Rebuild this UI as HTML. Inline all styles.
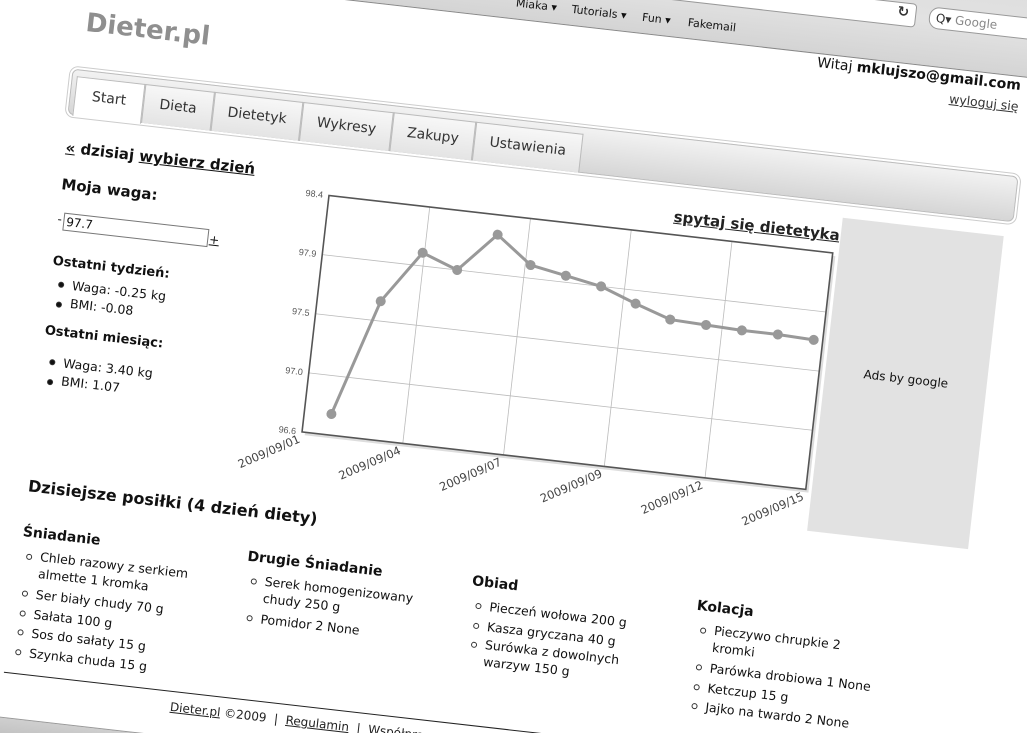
<!DOCTYPE html>
<html><head><meta charset="utf-8">
<style>
html,body{margin:0;padding:0;width:1027px;height:733px;overflow:hidden;background:#fff;}
#clip{position:relative;width:1027px;height:733px;overflow:hidden;}
#page{position:absolute;left:0;top:0;width:1100px;height:735px;transform:rotate(6.5deg);transform-origin:0 0;font-family:"DejaVu Sans","Liberation Sans",sans-serif;color:#111;}
.a{position:absolute;white-space:nowrap;}
.topbar{position:absolute;left:-300px;top:-260px;width:1700px;height:220px;background:linear-gradient(#cfcfcf,#e2e2e2 80%,#d4d4d4);border-bottom:1px solid #888;}
.bm{font-size:11px;color:#111;top:-62px;}
.tabbox{position:absolute;left:80px;top:60px;width:950px;height:44px;border:1px solid #bbb;border-radius:6px;background:linear-gradient(#f2f2f2,#d6d6d6);box-shadow:0 0 0 2px #fff,0 0 0 3px #ccc;}
.tab{position:absolute;top:6px;height:38px;border:1px solid #bbb;border-bottom:none;background:linear-gradient(#f7f7f7,#e4e4e4);font-size:14px;color:#333;text-align:center;line-height:36px;font-family:"DejaVu Sans",sans-serif;}
.tab.on{background:#fff;height:39px;}
h4{margin:0;font-size:15px;font-weight:bold;}
ul{margin:0;padding:0;list-style:none;}
.li{font-size:12.5px;line-height:19.5px;position:relative;padding-left:16px;}
.li:before{content:"";position:absolute;left:2px;top:7px;width:4px;height:4px;border:1px solid #333;border-radius:50%;}
.dot:before{background:#111;}
.meal ul{width:185px;}
.meal .li.w{white-space:normal;line-height:17px;margin-bottom:3px;}
</style></head><body>
<div id="clip">
<div id="page">
  <div class="topbar"></div>
  <div class="a" style="left:100px;top:-100px;width:810px;height:22px;border:1px solid #999;border-radius:4px;background:#fff"></div>
  <div class="a bm" style="left:513px">Miaka ▾</div>
  <div class="a bm" style="left:569px">Tutorials ▾</div>
  <div class="a bm" style="left:640px">Fun ▾</div>
  <div class="a bm" style="left:686px">Fakemail</div>
  <div class="a" style="left:893px;top:-98px;font-size:14px;color:#333;font-weight:bold">↻</div>
  <div class="a" style="left:925px;top:-99px;width:120px;height:20px;border:1px solid #999;border-radius:10px;background:#fff;font-size:12px;color:#888;line-height:20px;padding-left:6px"><span style="color:#333">Q▾</span> Google</div>

  <div class="a" style="left:88px;top:-2px;font-size:26px;font-weight:bold;color:#8f8f8f;font-family:'DejaVu Sans',sans-serif">Dieter.pl</div>
  <div class="a" style="right:76px;top:-38px;font-size:14px;text-align:right">Witaj <b>mklujszo@gmail.com</b></div>
  <div class="a" style="right:76px;top:-17px;font-size:12.5px;text-decoration:underline;color:#333">wyloguj się</div>

  <div class="tabbox">
    <div class="tab on" style="left:4px;width:67px">Start</div>
    <div class="tab" style="left:73px;width:68px">Dieta</div>
    <div class="tab" style="left:143px;width:87px">Dietetyk</div>
    <div class="tab" style="left:232px;width:89px">Wykresy</div>
    <div class="tab" style="left:323px;width:81px">Zakupy</div>
    <div class="tab" style="left:406px;width:106px">Ustawienia</div>
  </div>

  <div class="a" style="left:82px;top:130px;font-size:15px;font-weight:bold"><u>«</u> dzisiaj <u>wybierz dzień</u></div>
  <div class="a" style="left:82px;top:167px;font-size:15px;font-weight:bold">Moja waga:</div>
  <div class="a" style="left:82px;top:204px;font-size:12px">-</div>
  <div class="a" style="left:88px;top:204px;width:142px;height:16px;border:1px solid #777;font-size:12px;line-height:16px;padding-left:2px">97.7</div>
  <div class="a" style="left:235px;top:207px;font-size:12px;text-decoration:underline">+</div>
  <div class="a" style="left:82px;top:246px;font-size:13px;font-weight:bold">Ostatni tydzień:</div>
  <ul class="a" style="left:88px;top:266px">
    <li class="li dot">Waga: -0.25 kg</li>
    <li class="li dot" style="line-height:15px">BMI: -0.08</li>
  </ul>
  <div class="a" style="left:82px;top:316px;font-size:13px;font-weight:bold">Ostatni miesiąc:</div>
  <ul class="a" style="left:88px;top:344px">
    <li class="li dot">Waga: 3.40 kg</li>
    <li class="li dot" style="line-height:15px">BMI: 1.07</li>
  </ul>

  <svg id="chart" class="a" style="left:280px;top:140px" width="600" height="340"></svg>
  <div class="a" style="right:239px;top:130px;font-size:15px;font-weight:bold;text-decoration:underline;color:#222">spytaj się dietetyka</div>

  <div class="a" style="left:862px;top:121px;width:162px;height:315px;background:#e2e2e2">
    <div style="position:absolute;left:0;right:0;top:146px;text-align:center;font-size:12px">Ads by google</div>
  </div>

  <div class="a" style="left:83px;top:470px;font-size:16px;font-weight:bold">Dzisiejsze posiłki (4 dzień diety)</div>

  <div class="a meal" style="left:83px;top:518px">
    <h4 style="font-size:14px">Śniadanie</h4>
    <ul style="margin-top:6px;margin-left:4px">
      <li class="li w">Chleb razowy z serkiem almette 1 kromka</li>
      <li class="li">Ser biały chudy 70 g</li>
      <li class="li">Sałata 100 g</li>
      <li class="li">Sos do sałaty 15 g</li>
      <li class="li">Szynka chuda 15 g</li>
    </ul>
  </div>
  <div class="a meal" style="left:309px;top:517px">
    <h4 style="font-size:14px">Drugie Śniadanie</h4>
    <ul style="margin-top:6px;margin-left:4px">
      <li class="li w">Serek homogenizowany chudy 250 g</li>
      <li class="li">Pomidor 2 None</li>
    </ul>
  </div>
  <div class="a meal" style="left:535px;top:516px">
    <h4 style="font-size:14px">Obiad</h4>
    <ul style="margin-top:6px;margin-left:4px">
      <li class="li">Pieczeń wołowa 200 g</li>
      <li class="li">Kasza gryczana 40 g</li>
      <li class="li w">Surówka z dowolnych warzyw 150 g</li>
    </ul>
  </div>
  <div class="a meal" style="left:761px;top:515px">
    <h4 style="font-size:14px">Kolacja</h4>
    <ul style="margin-top:6px;margin-left:4px">
      <li class="li w">Pieczywo chrupkie 2 kromki</li>
      <li class="li">Parówka drobiowa 1 None</li>
      <li class="li">Ketczup 15 g</li>
      <li class="li">Jajko na twardo 2 None</li>
    </ul>
  </div>

  <div class="a" style="left:80px;top:667px;width:1020px;height:0;border-top:1px solid #222"></div>
  <div class="a" style="left:249px;top:676px;font-size:12px;color:#222"><u>Dieter.pl</u> ©2009 &nbsp;|&nbsp; <u>Regulamin</u> &nbsp;|&nbsp; <u>Współpraca</u> &nbsp;|&nbsp; <u>Kontakt</u></div>
  <div class="a" style="left:-300px;top:712px;width:1400px;height:23px;background:linear-gradient(#cfcfcf,#bdbdbd);border-top:1px solid #999"></div>
</div>
</div>
<script>
const days = [1.75, 2.75, 3.75, 4.75, 5.75, 6.75, 7.75, 8.75, 9.75, 10.75, 11.75, 12.75, 13.75, 14.75];
const weights = [96.76, 97.65, 98.05, 97.95, 98.25, 98.05, 98.0, 97.95, 97.85, 97.76, 97.75, 97.74, 97.74, 97.73];
const yTickValues = [96.6, 97.05, 97.5, 97.95, 98.4];
const yTickLabels = ["96.6", "97.0", "97.5", "97.9", "98.4"];
const xTickValues = [1, 3.8, 6.6, 9.4, 12.2, 15];
const xTickLabels = ["2009/09/01", "2009/09/04", "2009/09/07", "2009/09/09", "2009/09/12", "2009/09/15"];

const svg = document.getElementById('chart');
const NS = 'http://www.w3.org/2000/svg';
const PL = 69, PT = 17, PW = 507, PH = 238;
const xMin = 1, xMax = 15, yMin = 96.6, yMax = 98.4;
function xs(d){ return PL + (d - xMin) / (xMax - xMin) * PW; }
function ys(v){ return PT + (yMax - v) / (yMax - yMin) * PH; }
function mk(tag, attrs){ const e = document.createElementNS(NS, tag); for (const k in attrs) e.setAttribute(k, attrs[k]); svg.appendChild(e); return e; }

const shadow = mk('rect', {x: PL + 3, y: PT + 3, width: PW, height: PH, fill: '#ddd'});


const bg = mk('rect', {x: PL, y: PT, width: PW, height: PH, fill: '#fff'});



yTickValues.forEach((v, i) => {
  const g = mk('line', {x1: PL, x2: PL + PW, y1: ys(v), y2: ys(v), stroke: '#bbb', 'stroke-width': 0.8});
  
  
  const t = mk('text', {x: PL - 6, y: ys(v) + 3, 'text-anchor': 'end', 'font-size': 9, fill: '#555', 'font-family': 'Liberation Sans, sans-serif'});
  t.textContent = yTickLabels[i];
  
  
});
xTickValues.forEach((d, i) => {
  const g = mk('line', {x1: xs(d), x2: xs(d), y1: PT, y2: PT + PH, stroke: '#bbb', 'stroke-width': 0.8});
  
  
  const x = xs(d), y = PT + PH + 10;
  const t = mk('text', {x: x, y: y, 'text-anchor': 'end', 'font-size': 11.5, fill: '#444', 'font-family': 'DejaVu Sans, sans-serif', transform: 'rotate(-30 ' + x + ' ' + y + ')'});
  t.textContent = xTickLabels[i];
  
  
});
const border = mk('rect', {x: PL, y: PT, width: PW, height: PH, fill: 'none', stroke: '#555', 'stroke-width': 1.6});



const pts = days.map((d, i) => xs(d) + ',' + ys(weights[i])).join(' ');
const line = mk('polyline', {points: pts, fill: 'none', stroke: '#999', 'stroke-width': 3, 'stroke-linejoin': 'round'});


days.forEach((d, i) => {
  const c = mk('circle', {cx: xs(d), cy: ys(weights[i]), r: 5, fill: '#999'});
  
  
});
</script>
</body></html>
